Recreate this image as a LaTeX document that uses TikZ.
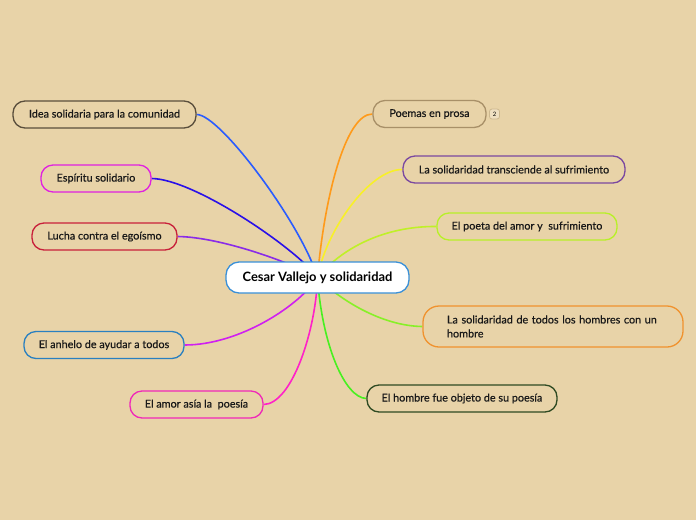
\documentclass[tikz,border=0pt]{standalone}
\usepackage{fontspec}
\setmainfont{Lato}
\newfontfamily\medfont[FakeBold=0.5]{Lato}
\usetikzlibrary{backgrounds}
\definecolor{bg}{HTML}{E8D3A8}
\definecolor{centB}{HTML}{3A90D8}
\definecolor{ideaB}{HTML}{5A4E3C}\definecolor{ideaL}{HTML}{2A5CFF}
\definecolor{espB}{HTML}{E020E0}\definecolor{espL}{HTML}{2A10E8}
\definecolor{luchaB}{HTML}{C8203A}\definecolor{luchaL}{HTML}{8A2BE8}
\definecolor{anheloB}{HTML}{2A80C0}\definecolor{anheloL}{HTML}{D020F0}
\definecolor{amorB}{HTML}{F028B8}\definecolor{amorL}{HTML}{FF22C8}
\definecolor{poemasB}{HTML}{A89068}\definecolor{poemasL}{HTML}{FF9A1A}
\definecolor{transB}{HTML}{7A48A0}\definecolor{transL}{HTML}{F8F028}
\definecolor{poetaB}{HTML}{B8F028}\definecolor{poetaL}{HTML}{C0F028}
\definecolor{todosB}{HTML}{F0922E}\definecolor{todosL}{HTML}{88F028}
\definecolor{hombreB}{HTML}{2E4A22}\definecolor{hombreL}{HTML}{48F020}
\definecolor{badgeB}{HTML}{CDB88F}
\begin{document}
\begin{tikzpicture}[x=1pt,y=-1pt,
  topic/.style={draw, line width=1.3pt, rounded corners=12pt, fill=bg,
    minimum height=27pt, inner sep=0pt, text=black!90,
    font=\medfont\fontsize{10.8}{14}\selectfont},
  link/.style={line width=1.6pt}]
\useasboundingbox (0,0) rectangle (696,520);
% central
\node[draw=centB, fill=white, line width=1.3pt, rounded corners=13pt,
  minimum width=183pt, minimum height=31pt, inner sep=0pt,
  font=\fontsize{12.9}{15}\selectfont\bfseries] (c) at (317.5,277.5) {Cesar Vallejo y solidaridad};
% left
\node[topic, draw=ideaB, minimum width=183pt] (idea) at (104.5,114.5) {Idea solidaria para la comunidad};
\node[topic, draw=espB, minimum width=110pt] (esp) at (96,178.5) {Espíritu solidario};
\node[topic, draw=luchaB, minimum width=145pt] (lucha) at (104.5,236.5) {Lucha contra el egoísmo};
\node[topic, draw=anheloB, minimum width=160pt] (anhelo) at (104,345) {El anhelo de ayudar a todos};
\node[topic, draw=amorB, minimum width=133pt] (amor) at (196.5,404.5) {El amor asía la\ \ poesía};
% right
\node[topic, draw=poemasB, minimum width=113pt] (poemas) at (429.5,114) {Poemas en prosa};
\node[draw=badgeB, fill=bg!70!white, line width=0.8pt, rounded corners=2.5pt,
  minimum width=10pt, minimum height=10pt, inner sep=0pt,
  font=\fontsize{6}{7}\selectfont] (badge) at (494.5,114) {2};
\node[topic, draw=transB, minimum width=222pt] (trans) at (514,169.5) {La solidaridad transciende al sufrimiento};
\node[topic, draw=poetaB, minimum width=180pt] (poeta) at (527,226.5) {El poeta del amor y\ \ sufrimiento};
\node[topic, draw=todosB, minimum width=260pt, minimum height=41pt, text width=212pt, align=left, rounded corners=16pt] (todos) at (553,326.5) {La solidaridad de todos los hombres con un\\hombre};
\node[topic, draw=hombreB, minimum width=190pt] (hombre) at (462,398.5) {El hombre fue objeto de su poesía};
\begin{pgfonlayer}{background}
\fill[bg] (0,0) rectangle (696,520);
\draw[link, ideaL] (c.center) .. controls (302,225) and (220,114) .. (idea.east);
\draw[link, espL] (c.center) .. controls (298,250) and (195,179) .. (esp.east);
\draw[link, luchaL] (c.center) .. controls (290,262) and (220,237) .. (lucha.east);
\draw[link, anheloL] (c.center) .. controls (300,305) and (240,345) .. (anhelo.east);
\draw[link, amorL] (c.center) .. controls (316,330) and (292,404) .. (amor.east);
\draw[link, poemasL] (c.center) .. controls (324,200) and (345,114) .. (poemas.west);
\draw[link, transL] (c.center) .. controls (326,230) and (370,169) .. (trans.west);
\draw[link, poetaL] (c.center) .. controls (340,250) and (382,226) .. (poeta.west);
\draw[link, todosL] (c.center) .. controls (340,300) and (382,326) .. (todos.west);
\draw[link, hombreL] (c.center) .. controls (322,345) and (345,398) .. (hombre.west);
\end{pgfonlayer}
\end{tikzpicture}
\end{document}
